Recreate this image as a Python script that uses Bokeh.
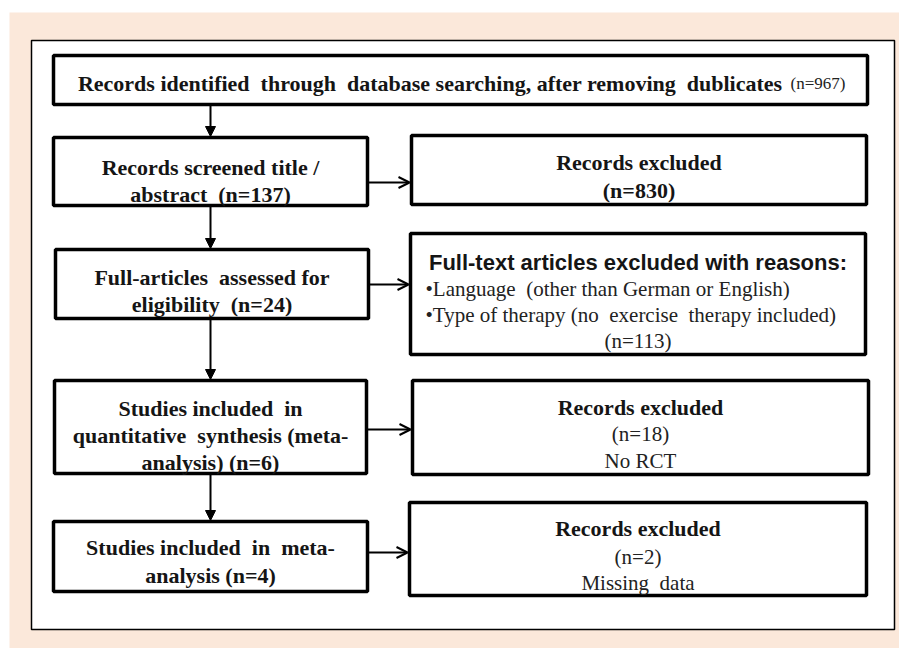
from bokeh.plotting import figure
from bokeh.models import Range1d, Arrow, NormalHead, OpenHead
from bokeh.core.properties import value
from bokeh.embed import file_html
from bokeh.resources import INLINE

# ---------------- data (counts and labels) ----------------
n_identified = 967
n_screened = 137
n_fulltext = 24
n_quantitative = 6
n_meta = 4
n_excl_screen = 830
n_excl_fulltext = 113
n_excl_rct = 18
n_excl_missing = 2

NB = "\u00a0"
top_label = f"Records identified {NB}through {NB}database searching, after removing {NB}dublicates"
top_count = f"(n={n_identified})"

stage_lines = [
    ["Records screened title /", f"abstract {NB}(n={n_screened})"],
    [f"Full-articles {NB}assessed for", f"eligibility {NB}(n={n_fulltext})"],
    [f"Studies included {NB}in", f"quantitative {NB}synthesis (meta-", f"analysis) (n={n_quantitative})"],
    [f"Studies included {NB}in {NB}meta-", f"analysis (n={n_meta})"],
]

excl_title = "Records excluded"
fulltext_title = "Full-text articles excluded with reasons:"
fulltext_reasons = [f"\u2022Language {NB}(other than German or English)",
                    f"\u2022Type of therapy (no {NB}exercise {NB}therapy included)"]
rct_reason = "No RCT"
missing_reason = f"Missing {NB}data"

# ---------------- layout (pixel positions) ----------------
TOP_BOX = (53, 867, 55, 104)
LEFT_BOXES = [(53, 367, 137, 205), (55, 368, 249, 318), (54, 366, 380, 473), (53, 367, 521, 591)]
RIGHT_BOXES = [(411, 866, 135, 204), (410, 865, 233, 354), (412, 868, 380, 474), (409, 866, 502, 595)]
H_ARROW_Y = [182, 284, 429, 552]
LEFT_BASELINES = [[167, 194], [277, 304], [408, 435, 462], [547, 575]]
ARROW_X = 210

BOLD_SERIF = dict(text_font=value("Liberation Serif"), text_font_style="bold",
                  text_font_size="22px", text_color="#151515")
REG_SERIF = dict(text_font=value("Liberation Serif"), text_font_style="normal",
                 text_font_size="21px", text_color="#222222")

p = figure(width=899, height=648, x_range=Range1d(0, 899), y_range=Range1d(648, 0),
           output_backend="svg", toolbar_location=None, min_border=0,
           background_fill_color="white", border_fill_color="white")
p.axis.visible = False
p.grid.visible = False
p.outline_line_color = None

# peach background and white panel
p.quad(left=[9], right=[899], top=[12], bottom=[648], fill_color="#FBE8DA", line_color=None)
p.quad(left=[31], right=[894], top=[40], bottom=[629], fill_color="white",
       line_color="black", line_width=1.5)

# boxes
boxes = [TOP_BOX] + LEFT_BOXES + RIGHT_BOXES
p.quad(left=[b[0] for b in boxes], right=[b[1] for b in boxes],
       top=[b[2] for b in boxes], bottom=[b[3] for b in boxes],
       fill_color="white", line_color="black", line_width=3.5)

# top box text
p.text(x=[782], y=[83], text=[top_label], text_align="right", text_baseline="alphabetic", **BOLD_SERIF)
p.text(x=[790], y=[83], text=[top_count], text_align="left", text_baseline="alphabetic",
       text_font=value("Liberation Serif"), text_font_size="17px", text_color="#222222")

# left boxes text
xs, ys, ts = [], [], []
for box, lines, bls in zip(LEFT_BOXES, stage_lines, LEFT_BASELINES):
    cx = (box[0] + box[1]) / 2
    for t, b in zip(lines, bls):
        xs.append(cx); ys.append(b); ts.append(t)
p.text(x=xs, y=ys, text=ts, text_align="center", text_baseline="alphabetic", **BOLD_SERIF)

# right boxes text
rc = [(b[0] + b[1]) / 2 for b in RIGHT_BOXES]
# box 1
p.text(x=[rc[0], rc[0]], y=[162, 190], text=[excl_title, f"(n={n_excl_screen})"],
       text_align="center", text_baseline="alphabetic", **BOLD_SERIF)
# box 2
p.text(x=[rc[1]], y=[262], text=[fulltext_title], text_align="center", text_baseline="alphabetic",
       text_font=value("Liberation Sans"), text_font_style="bold", text_font_size="22px",
       text_color="#151515")
p.text(x=[425, 425], y=[288, 314], text=fulltext_reasons, text_align="left",
       text_baseline="alphabetic", **REG_SERIF)
p.text(x=[rc[1]], y=[340], text=[f"(n={n_excl_fulltext})"], text_align="center",
       text_baseline="alphabetic", **REG_SERIF)
# box 3
p.text(x=[rc[2]], y=[407], text=[excl_title], text_align="center", text_baseline="alphabetic", **BOLD_SERIF)
p.text(x=[rc[2], rc[2]], y=[433, 460], text=[f"(n={n_excl_rct})", rct_reason],
       text_align="center", text_baseline="alphabetic", **REG_SERIF)
# box 4
p.text(x=[rc[3]], y=[528], text=[excl_title], text_align="center", text_baseline="alphabetic", **BOLD_SERIF)
p.text(x=[rc[3], rc[3]], y=[556, 582], text=[f"(n={n_excl_missing})", missing_reason],
       text_align="center", text_baseline="alphabetic", **REG_SERIF)

# vertical arrows
v_pairs = [(TOP_BOX[3], LEFT_BOXES[0][2])] + [(LEFT_BOXES[i][3], LEFT_BOXES[i + 1][2]) for i in range(3)]
for y0, y1 in v_pairs:
    p.add_layout(Arrow(x_start=ARROW_X, y_start=y0 + 1, x_end=ARROW_X, y_end=y1 - 1,
                       line_width=2, line_color="black",
                       end=NormalHead(size=10, fill_color="black", line_color="black", line_width=1)))

# horizontal arrows
for lb, rb, y in zip(LEFT_BOXES, RIGHT_BOXES, H_ARROW_Y):
    p.add_layout(Arrow(x_start=lb[1] + 1, y_start=y, x_end=rb[0] - 2, y_end=y,
                       line_width=2, line_color="black",
                       end=OpenHead(size=11, line_color="black", line_width=2)))

open("out.html", "w").write(file_html(p, INLINE))
